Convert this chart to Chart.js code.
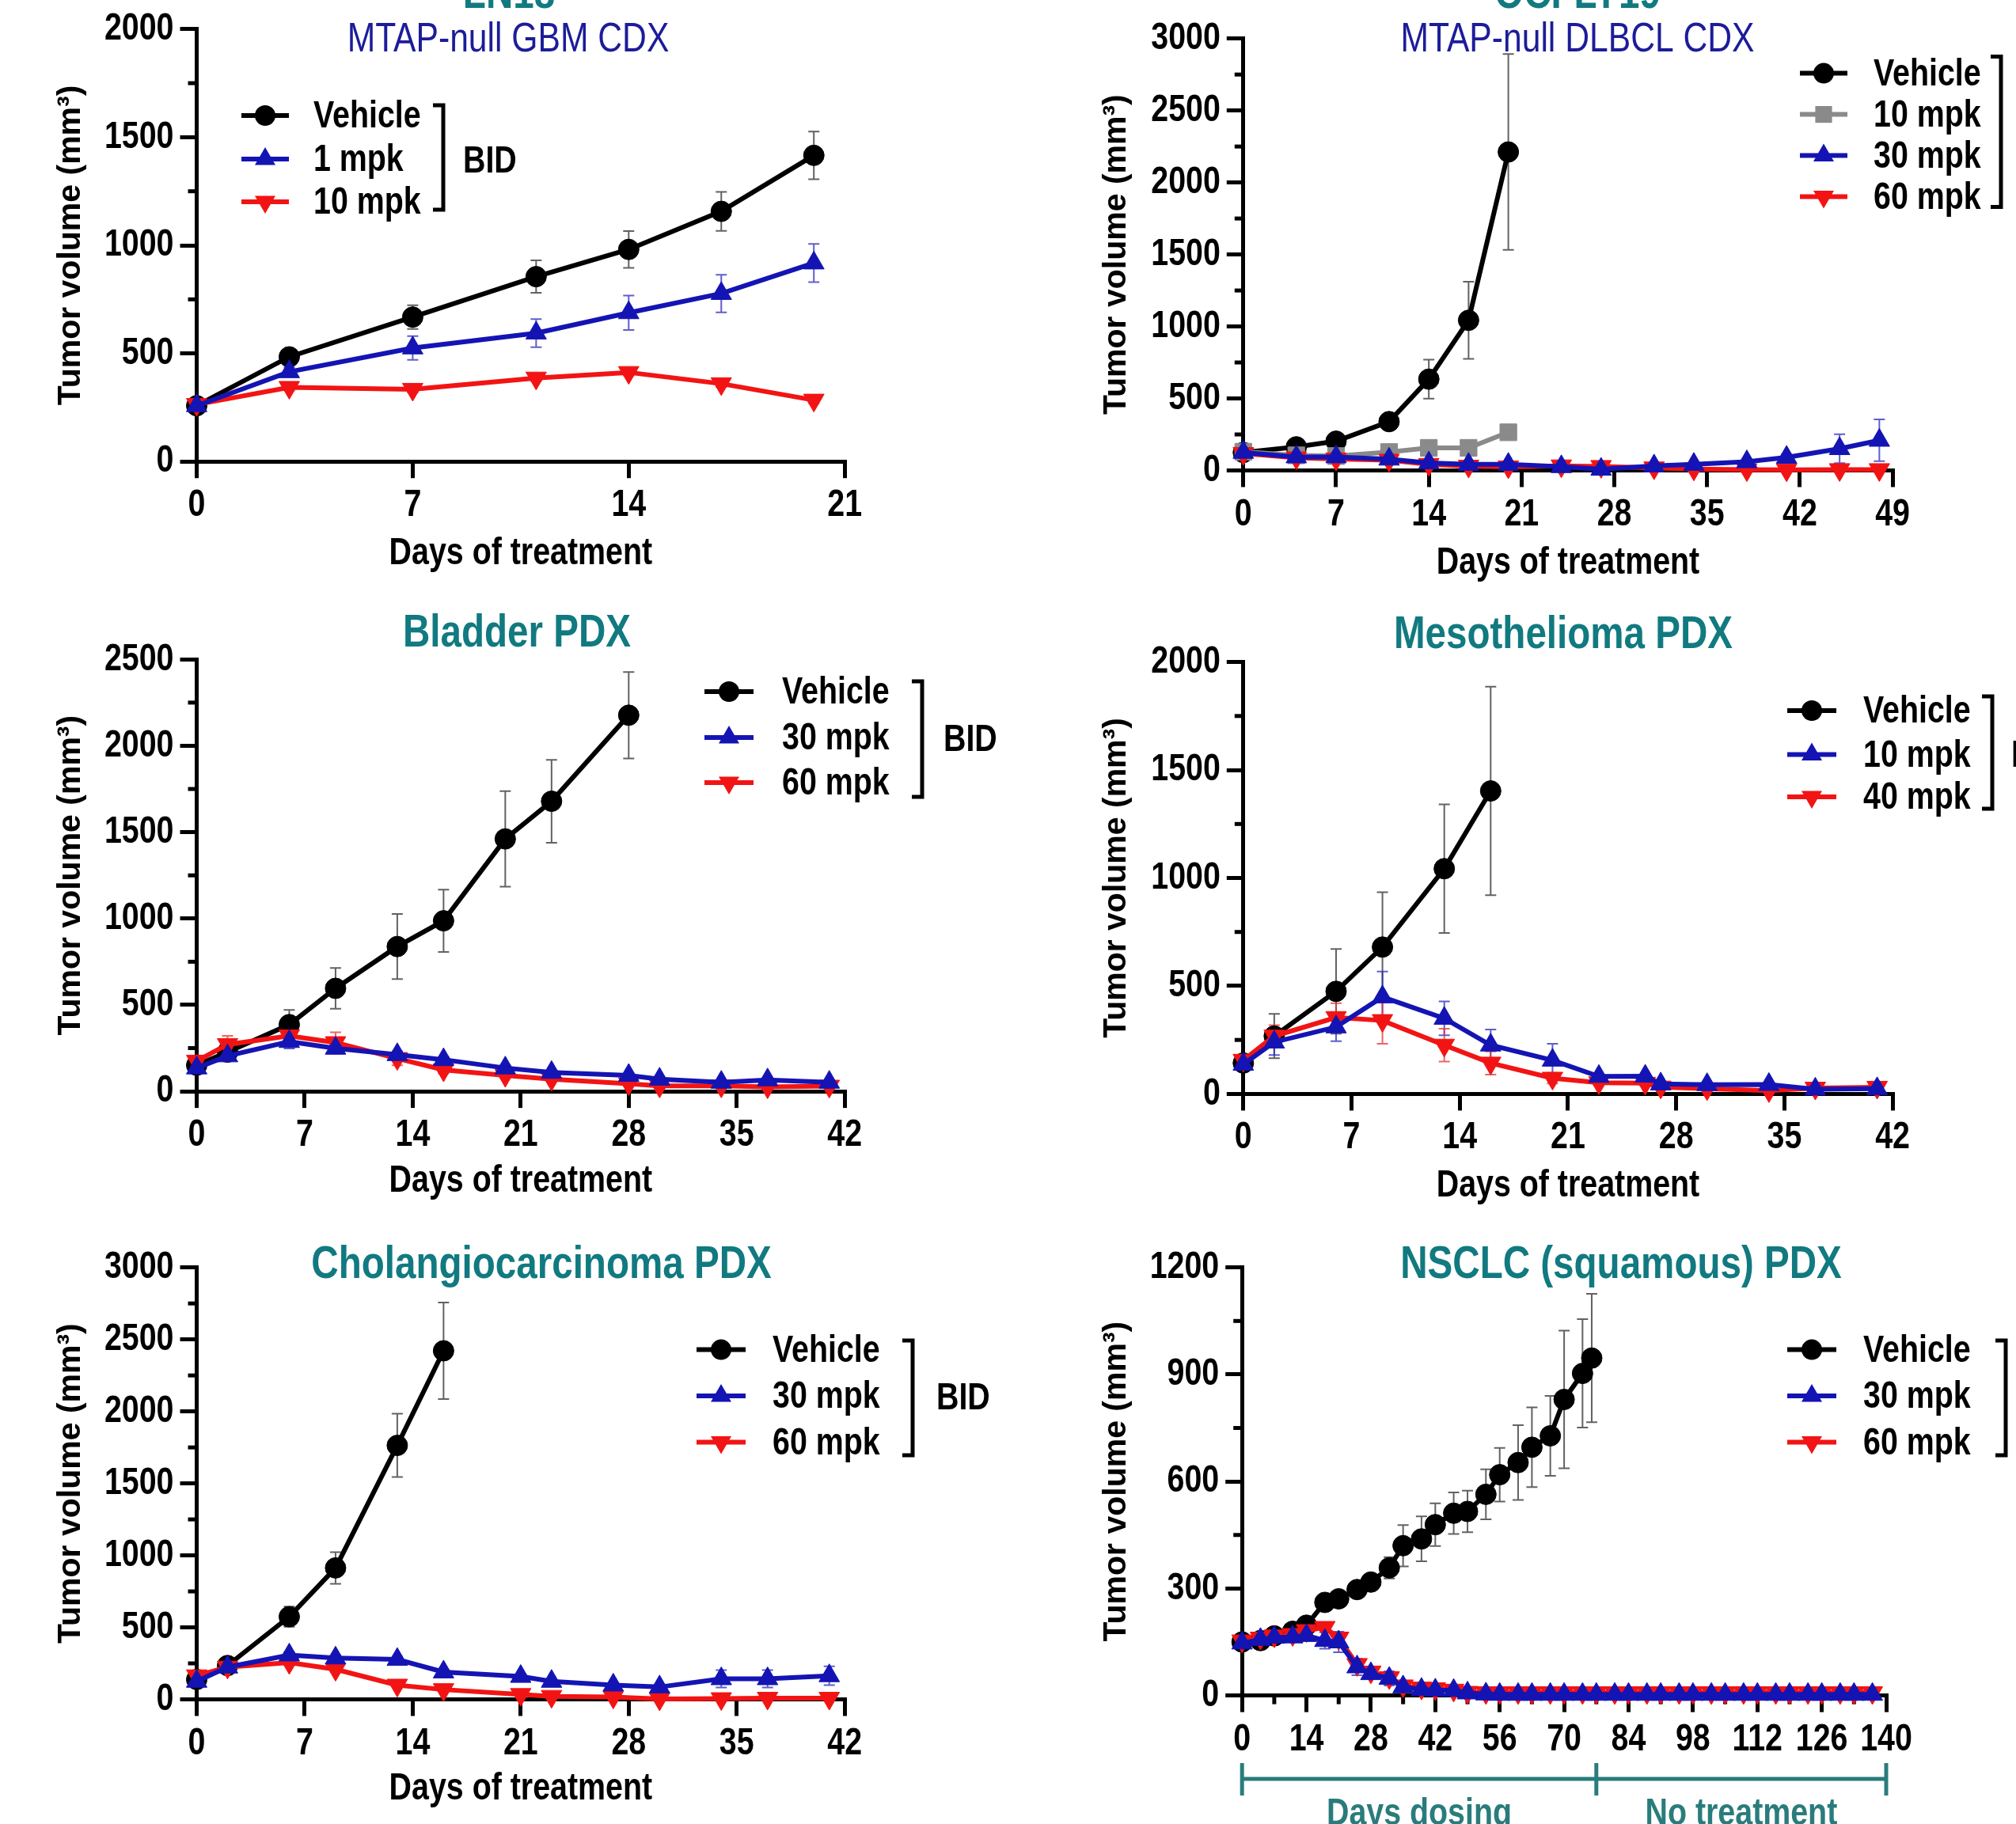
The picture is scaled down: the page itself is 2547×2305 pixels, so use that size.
<!DOCTYPE html>
<html>
<head>
<meta charset="utf-8">
<script src="https://cdn.jsdelivr.net/npm/chart.js@4.4.1/dist/chart.umd.min.js"></script>
<style>
html, body { margin: 0; padding: 0; background: #ffffff; }
body { width: 2547px; height: 2305px; position: relative; overflow: hidden; }
</style>
</head>
<body>
<script>
// ---------------- DATA ----------------
// LN18 (MTAP-null GBM CDX)
const ln18Days = [0, 3, 7, 11, 14, 17, 20];
const ln18Vehicle = [258, 484, 668, 855, 981, 1157, 1416];
const ln18VehicleSem = [12, 22, 55, 75, 85, 90, 110];
const ln18Mpk1 = [258, 415, 525, 594, 688, 777, 918];
const ln18Mpk1Sem = [10, 20, 55, 65, 80, 87, 88];
const ln18Mpk10 = [264, 343, 334, 386, 412, 360, 284];
const ln18Mpk10Sem = [10, 15, 15, 15, 15, 15, 15];

// OCI-LY19 (MTAP-null DLBCL CDX)
const ociShortDays = [0, 4, 7, 11, 14, 17, 20];
const ociLongDays = [0, 4, 7, 11, 14, 17, 20, 24, 27, 31, 34, 38, 41, 45, 48];
const ociVehicle = [125, 164, 203, 339, 634, 1043, 2212];
const ociVehicleSem = [15, 20, 25, 40, 135, 268, 680];
const ociMpk10 = [130, 105, 100, 128, 157, 157, 265];
const ociMpk10Sem = [10, 10, 10, 15, 20, 20, 25];
const ociMpk30 = [125, 94, 94, 78, 52, 42, 42, 26, 8, 31, 42, 60, 91, 151, 209];
const ociMpk30Sem = [10, 10, 10, 10, 10, 10, 10, 8, 5, 8, 10, 12, 20, 100, 145];
const ociMpk60 = [118, 88, 80, 72, 42, 30, 25, 32, 28, 18, 10, 5, 4, 6, 6];
const ociMpk60Sem = [10, 10, 10, 10, 8, 8, 8, 8, 6, 5, 4, 3, 3, 3, 3];

// Bladder PDX
const bladVehDays = [0, 2, 6, 9, 13, 16, 20, 23, 28];
const bladVehicle = [151, 227, 386, 596, 838, 987, 1461, 1679, 2177];
const bladVehicleSem = [20, 20, 85, 118, 188, 180, 277, 240, 250];
const bladTxDays = [0, 2, 6, 9, 13, 16, 20, 23, 28, 30, 34, 37, 41];
const bladMpk30 = [135, 205, 288, 249, 212, 183, 135, 109, 92, 70, 52, 66, 52];
const bladMpk30Sem = [15, 20, 40, 30, 20, 15, 15, 12, 10, 10, 8, 10, 10];
const bladMpk60 = [175, 271, 321, 282, 190, 124, 92, 70, 44, 31, 31, 26, 30];
const bladMpk60Sem = [20, 50, 50, 60, 40, 20, 15, 12, 10, 8, 8, 8, 8];

// Mesothelioma PDX
const mesoVehDays = [0, 2, 6, 9, 13, 16];
const mesoVehicle = [143, 268, 475, 680, 1043, 1403];
const mesoVehicleSem = [20, 103, 196, 254, 298, 483];
const mesoTxDays = [0, 2, 6, 9, 13, 16, 20, 23, 26, 27, 30, 34, 37, 41];
const mesoMpk10 = [137, 240, 310, 449, 350, 226, 156, 81, 82, 46, 43, 44, 22, 24];
const mesoMpk10Sem = [15, 60, 66, 118, 78, 72, 76, 12, 10, 8, 8, 8, 5, 5];
const mesoMpk40 = [156, 268, 354, 340, 226, 143, 73, 52, 50, 32, 24, 15, 27, 31];
const mesoMpk40Sem = [15, 50, 66, 108, 76, 54, 25, 10, 10, 8, 5, 5, 5, 5];

// Cholangiocarcinoma PDX
const cholVehDays = [0, 2, 6, 9, 13, 16];
const cholVehicle = [138, 235, 574, 913, 1764, 2421];
const cholVehicleSem = [20, 20, 70, 110, 220, 335];
const cholTxDays = [0, 2, 6, 9, 13, 16, 21, 23, 27, 30, 34, 37, 41];
const cholMpk30 = [125, 224, 308, 287, 277, 190, 159, 125, 99, 86, 143, 143, 164];
const cholMpk30Sem = [15, 20, 20, 20, 20, 15, 15, 15, 15, 15, 60, 60, 65];
const cholMpk60 = [164, 224, 256, 209, 99, 68, 34, 21, 16, 3, 5, 8, 8];
const cholMpk60Sem = [15, 20, 20, 20, 15, 10, 8, 5, 5, 3, 3, 3, 3];

// NSCLC (squamous) PDX
const nsclcVehDays = [0, 4, 7, 11, 14, 18, 21, 25, 28, 32, 35, 39, 42, 46, 49, 53, 56, 60, 63, 67, 70, 74, 76];
const nsclcVehicle = [150, 154, 167, 180, 197, 261, 271, 297, 318, 358, 420, 439, 479, 511, 516, 564, 619, 653, 696, 728, 830, 903, 946];
const nsclcVehicleSem = [5, 5, 8, 8, 10, 10, 10, 10, 12, 30, 58, 63, 60, 58, 58, 70, 75, 105, 112, 112, 193, 152, 180];
const nsclcTxDays = [0, 4, 7, 11, 14, 18, 21, 25, 28, 32, 35, 39, 42, 46, 49, 53, 56, 60, 63, 67, 70, 74, 77, 81, 84, 88, 91, 95, 98, 102, 105, 109, 112, 116, 119, 123, 126, 130, 133, 137];
const nsclcMpk30 = [147, 157, 163, 164, 168, 154, 150, 80, 61, 48, 24, 17, 15, 14, 7, 4, 3, 3, 3, 3, 3, 3, 3, 3, 3, 3, 3, 3, 3, 3, 3, 3, 3, 3, 3, 3, 3, 3, 3, 3];
const nsclcMpk30Sem = [5, 5, 8, 8, 10, 23, 29, 23, 10, 20, 8, 6, 5, 5, 4, 0, 0, 0, 0, 0, 0, 0, 0, 0, 0, 0, 0, 0, 0, 0, 0, 0, 0, 0, 0, 0, 0, 0, 0, 0];
const nsclcMpk60 = [153, 161, 167, 171, 182, 191, 161, 87, 66, 50, 27, 21, 19, 15, 9, 8, 8, 8, 8, 8, 8, 8, 8, 8, 8, 8, 8, 8, 8, 8, 8, 8, 8, 8, 8, 8, 8, 8, 8, 8];
const nsclcMpk60Sem = [5, 5, 8, 8, 10, 10, 10, 15, 10, 10, 6, 5, 5, 4, 3, 0, 0, 0, 0, 0, 0, 0, 0, 0, 0, 0, 0, 0, 0, 0, 0, 0, 0, 0, 0, 0, 0, 0, 0, 0];
const nsclcDosingEndDay = 77;

// ---------------- STYLE ----------------
// "Arimo" marks the condensed text family; it is drawn with a horizontal squeeze (Arial Narrow look).
const NARROW = "'Liberation Sans',Arimo,Arial,sans-serif";
const NARROW_SCALE = 0.82;
const WIDE = "'Liberation Sans',Arial,sans-serif";
const BLACK = '#000000', BLUE = '#1414b4', RED = '#f21414', GRAY = '#8a8a8a';
const TEAL = '#117a80', TEAL2 = '#2a7c7c', NAVY = '#1c1c9a';
const ERR = { [BLACK]: 'rgba(70,70,70,0.85)', [BLUE]: 'rgba(40,40,190,0.75)', [RED]: 'rgba(230,50,50,0.75)', [GRAY]: 'rgba(120,120,120,0.8)' };

function series(label, days, vals, sem, color, shape, order) {
  const r = shape === 'circle' ? 13 : (shape === 'rect' ? 15 : 15);
  return {
    label, shape, sem, order,
    data: days.map((d, i) => ({ x: d, y: vals[i] })),
    borderColor: color, backgroundColor: color, borderWidth: 6,
    pointStyle: shape === 'down' || shape === 'up' ? 'triangle' : shape,
    pointRotation: shape === 'down' ? 180 : 0,
    pointRadius: r, pointHoverRadius: r,
    pointBorderWidth: 1, pointBorderColor: color, pointBackgroundColor: color,
    tension: 0, clip: false, errColor: ERR[color]
  };
}

function drawMarker(ctx, shape, x, y, color) {
  ctx.fillStyle = color;
  ctx.beginPath();
  const r = 15;
  if (shape === 'circle') ctx.arc(x, y, 13, 0, Math.PI * 2);
  else if (shape === 'rect') ctx.rect(x - 10.6, y - 10.6, 21.2, 21.2);
  else if (shape === 'up') { ctx.moveTo(x, y - r); ctx.lineTo(x + r * 0.866, y + r / 2); ctx.lineTo(x - r * 0.866, y + r / 2); ctx.closePath(); }
  else { ctx.moveTo(x, y + r); ctx.lineTo(x + r * 0.866, y - r / 2); ctx.lineTo(x - r * 0.866, y - r / 2); ctx.closePath(); }
  ctx.fill();
}

function condenseText(ctx) {
  const orig = ctx.fillText.bind(ctx);
  ctx.fillText = function (text, x, y, maxWidth) {
    if (String(this.font).indexOf('Arimo') >= 0) {
      this.save();
      this.translate(x, y);
      this.scale(NARROW_SCALE, 1);
      orig(text, 0, 0);
      this.restore();
    } else if (maxWidth === undefined) {
      orig(text, x, y);
    } else {
      orig(text, x, y, maxWidth);
    }
  };
}

function buildPanel(p) {
  const [cx, cy, cw, ch] = p.canvas;
  const [L, T, R, B] = p.area;
  const YW = 200, XH = 150;
  const canvas = document.createElement('canvas');
  canvas.width = cw; canvas.height = ch;
  Object.assign(canvas.style, { position: 'absolute', left: cx + 'px', top: cy + 'px', width: cw + 'px', height: ch + 'px' });
  document.body.appendChild(canvas);
  condenseText(canvas.getContext('2d'));
  const padding = { left: L - cx - YW, top: T - cy, right: cx + cw - R, bottom: cy + ch - B - XH };
  const xTitlePad = p.xTitleY ? (B + XH - p.xTitleY - 28.8) : 0;
  const yTitlePad = p.yTitleX - (L - YW) - 24;

  const deco = {
    id: 'deco_' + p.name,
    beforeDatasetsDraw(chart) {
      const ctx = chart.ctx, xs = chart.scales.x, ys = chart.scales.y;
      ctx.save();
      ctx.strokeStyle = '#000'; ctx.lineWidth = 5; ctx.lineCap = 'butt';
      if (p.yMinor) {
        for (let v = p.yMinor; v < p.yMax; v += p.yMinor * 2) {
          const py = ys.getPixelForValue(v);
          ctx.beginPath(); ctx.moveTo(xs.left - 11, py); ctx.lineTo(xs.left, py); ctx.stroke();
        }
      }
      if (p.xMinor) {
        for (let v = p.xMinor; v < p.xMax; v += p.xMinor * 2) {
          const px = xs.getPixelForValue(v);
          ctx.beginPath(); ctx.moveTo(px, ys.bottom); ctx.lineTo(px, ys.bottom + 11); ctx.stroke();
        }
      }
      chart.data.datasets.forEach(d => {
        if (!d.sem) return;
        ctx.strokeStyle = d.errColor; ctx.lineWidth = 2;
        d.data.forEach((pt, i) => {
          const e = d.sem[i];
          if (!e) return;
          const px = xs.getPixelForValue(pt.x);
          const yt = ys.getPixelForValue(pt.y + e);
          const yb = ys.getPixelForValue(Math.max(pt.y - e, 0));
          ctx.beginPath();
          ctx.moveTo(px, yt); ctx.lineTo(px, yb);
          ctx.moveTo(px - 7, yt); ctx.lineTo(px + 7, yt);
          ctx.moveTo(px - 7, yb); ctx.lineTo(px + 7, yb);
          ctx.stroke();
        });
      });
      ctx.restore();
    },
    afterDraw(chart) {
      const ctx = chart.ctx;
      ctx.save();
      (p.texts || []).forEach(t => {
        ctx.font = t.font; ctx.fillStyle = t.color;
        ctx.textAlign = t.align || 'center'; ctx.textBaseline = t.baseline || 'alphabetic';
        ctx.fillText(t.t, t.x - cx, t.y - cy);
      });
      const lg = p.legend;
      const items = chart.data.datasets.slice().sort((a, b) => a.legendIndex - b.legendIndex);
      items.forEach((d, i) => {
        const y = lg.rows[i] - cy;
        ctx.strokeStyle = d.borderColor; ctx.lineWidth = 6;
        ctx.beginPath(); ctx.moveTo(lg.x1 - cx, y); ctx.lineTo(lg.x2 - cx, y); ctx.stroke();
        drawMarker(ctx, d.shape, (lg.x1 + lg.x2) / 2 - cx, y, d.borderColor);
        ctx.font = `bold 48px ${NARROW}`; ctx.fillStyle = '#000';
        ctx.textAlign = 'left'; ctx.textBaseline = 'middle';
        ctx.fillText(d.label, lg.textX - cx, y + 2);
      });
      const bx = lg.bracket[0] - cx, by1 = lg.bracket[1] - cy, by2 = lg.bracket[2] - cy;
      ctx.strokeStyle = '#000'; ctx.lineWidth = 5; ctx.lineJoin = 'miter';
      ctx.beginPath(); ctx.moveTo(bx - 13, by1); ctx.lineTo(bx, by1); ctx.lineTo(bx, by2); ctx.lineTo(bx - 13, by2); ctx.stroke();
      if (lg.bid) {
        ctx.font = `bold 48px ${NARROW}`; ctx.fillStyle = '#000';
        ctx.textAlign = 'left'; ctx.textBaseline = 'middle';
        ctx.fillText('BID', lg.bid[0] - cx, lg.bid[1] - cy + 2);
      }
      if (p.dosing) {
        const xs = chart.scales.x;
        const a = xs.getPixelForValue(0), m = xs.getPixelForValue(p.dosing.end), b = xs.getPixelForValue(p.xMax);
        const yl = p.dosing.y - cy;
        ctx.strokeStyle = TEAL2; ctx.lineWidth = 5;
        ctx.beginPath(); ctx.moveTo(a, yl); ctx.lineTo(b, yl); ctx.stroke();
        [a, m, b].forEach(px => { ctx.beginPath(); ctx.moveTo(px, yl - 20); ctx.lineTo(px, yl + 21); ctx.stroke(); });
        ctx.font = `bold 48px ${NARROW}`; ctx.fillStyle = TEAL2; ctx.textAlign = 'center'; ctx.textBaseline = 'alphabetic';
        ctx.fillText('Days dosing', (a + m) / 2, p.dosing.textY - cy);
        ctx.fillText('No treatment', (m + b) / 2, p.dosing.textY - cy);
      }
      ctx.restore();
    }
  };

  const tickFont = { family: NARROW, weight: 'bold', size: 48 };
  new Chart(canvas, {
    type: 'line',
    data: { datasets: p.datasets },
    options: {
      responsive: false, animation: false, devicePixelRatio: 1, events: [],
      layout: { padding, autoPadding: false },
      plugins: { legend: { display: false }, tooltip: { enabled: false }, title: { display: false } },
      scales: {
        x: {
          type: 'linear', min: 0, max: p.xMax,
          afterFit(s) { s.height = XH; },
          border: { display: true, color: '#000', width: 5 },
          grid: { display: true, drawOnChartArea: false, drawTicks: true, tickLength: 21, tickWidth: 5, tickColor: '#000', color: '#000', lineWidth: 5 },
          ticks: { stepSize: p.xStep, autoSkip: false, maxRotation: 0, minRotation: 0, color: '#000', padding: 6, font: tickFont, callback: v => String(v) },
          title: { display: !!p.xTitle, text: p.xTitle || '', color: '#000', font: { family: NARROW, weight: 'bold', size: 48, lineHeight: 1.2 }, padding: { top: 0, bottom: xTitlePad } }
        },
        y: {
          type: 'linear', min: 0, max: p.yMax,
          afterFit(s) { s.width = YW; },
          border: { display: true, color: '#000', width: 5 },
          grid: { display: true, drawOnChartArea: false, drawTicks: true, tickLength: 21, tickWidth: 5, tickColor: '#000', color: '#000', lineWidth: 5 },
          ticks: { stepSize: p.yStep, autoSkip: false, color: '#000', padding: 8, font: tickFont, callback: v => String(v) },
          title: { display: true, text: 'Tumor volume (mm³)', color: '#000', font: { family: WIDE, weight: 'bold', size: 41, lineHeight: 1.2 }, padding: { top: yTitlePad, bottom: 0 } }
        }
      }
    },
    plugins: [deco]
  });
}

function withIdx(ds, i) { ds.legendIndex = i; return ds; }

const TITLE_FONT = `bold 58px ${NARROW}`;
const SUB_FONT = `52px ${NARROW}`;

buildPanel({
  name: 'ln18', canvas: [0, 0, 1274, 770], area: [248.5, 35.7, 1067.2, 583.2],
  xMax: 21, xStep: 7, yMax: 2000, yStep: 500, yMinor: 250, yTitleX: 89, xTitleY: 700, xTitle: 'Days of treatment',
  datasets: [
    withIdx(series('Vehicle', ln18Days, ln18Vehicle, ln18VehicleSem, BLACK, 'circle', 3), 0),
    withIdx(series('1 mpk', ln18Days, ln18Mpk1, ln18Mpk1Sem, BLUE, 'up', 1), 1),
    withIdx(series('10 mpk', ln18Days, ln18Mpk10, ln18Mpk10Sem, RED, 'down', 2), 2)
  ],
  texts: [
    { t: 'LN18', x: 643, y: 10, font: TITLE_FONT, color: TEAL },
    { t: 'MTAP-null GBM CDX', x: 642, y: 65, font: SUB_FONT, color: NAVY }
  ],
  legend: { rows: [146, 201, 255], x1: 305, x2: 365, textX: 396, bracket: [560, 133, 265], bid: [585, 203] }
});

buildPanel({
  name: 'oci', canvas: [1274, 0, 1273, 770], area: [1570.8, 48.7, 2391.1, 594.5],
  xMax: 49, xStep: 7, yMax: 3000, yStep: 500, yMinor: 250, yTitleX: 1410, xTitleY: 711.5, xTitle: 'Days of treatment',
  datasets: [
    withIdx(series('Vehicle', ociShortDays, ociVehicle, ociVehicleSem, BLACK, 'circle', 4), 0),
    withIdx(series('10 mpk', ociShortDays, ociMpk10, ociMpk10Sem, GRAY, 'rect', 3), 1),
    withIdx(series('30 mpk', ociLongDays, ociMpk30, ociMpk30Sem, BLUE, 'up', 1), 2),
    withIdx(series('60 mpk', ociLongDays, ociMpk60, ociMpk60Sem, RED, 'down', 2), 3)
  ],
  texts: [
    { t: 'OCI-LY19', x: 1993, y: 10, font: TITLE_FONT, color: TEAL },
    { t: 'MTAP-null DLBCL CDX', x: 1993, y: 65, font: SUB_FONT, color: NAVY }
  ],
  legend: { rows: [92.6, 144.6, 196.6, 248.5], x1: 2274, x2: 2334, textX: 2367, bracket: [2528, 71.5, 261.5], bid: [2555, 170] }
});

buildPanel({
  name: 'bladder', canvas: [0, 770, 1274, 770], area: [248.5, 833.3, 1067.2, 1379.1],
  xMax: 42, xStep: 7, yMax: 2500, yStep: 500, yMinor: 250, yTitleX: 89, xTitleY: 1493, xTitle: 'Days of treatment',
  datasets: [
    withIdx(series('Vehicle', bladVehDays, bladVehicle, bladVehicleSem, BLACK, 'circle', 3), 0),
    withIdx(series('30 mpk', bladTxDays, bladMpk30, bladMpk30Sem, BLUE, 'up', 1), 1),
    withIdx(series('60 mpk', bladTxDays, bladMpk60, bladMpk60Sem, RED, 'down', 2), 2)
  ],
  texts: [ { t: 'Bladder PDX', x: 653, y: 817, font: TITLE_FONT, color: TEAL } ],
  legend: { rows: [874, 932, 989], x1: 890, x2: 952, textX: 988, bracket: [1165, 861, 1007], bid: [1192, 934] }
});

buildPanel({
  name: 'meso', canvas: [1274, 770, 1273, 770], area: [1570.8, 836.6, 2391.1, 1382.4],
  xMax: 42, xStep: 7, yMax: 2000, yStep: 500, yMinor: 250, yTitleX: 1410, xTitleY: 1499, xTitle: 'Days of treatment',
  datasets: [
    withIdx(series('Vehicle', mesoVehDays, mesoVehicle, mesoVehicleSem, BLACK, 'circle', 3), 0),
    withIdx(series('10 mpk', mesoTxDays, mesoMpk10, mesoMpk10Sem, BLUE, 'up', 1), 1),
    withIdx(series('40 mpk', mesoTxDays, mesoMpk40, mesoMpk40Sem, RED, 'down', 2), 2)
  ],
  texts: [ { t: 'Mesothelioma PDX', x: 1975, y: 819, font: TITLE_FONT, color: TEAL } ],
  legend: { rows: [898, 953.5, 1007], x1: 2258, x2: 2320, textX: 2354, bracket: [2517, 880, 1022], bid: [2541, 953.5] }
});

buildPanel({
  name: 'chol', canvas: [0, 1540, 1274, 765], area: [248.5, 1601.7, 1067.2, 2147.5],
  xMax: 42, xStep: 7, yMax: 3000, yStep: 500, yMinor: 250, yTitleX: 89, xTitleY: 2261, xTitle: 'Days of treatment',
  datasets: [
    withIdx(series('Vehicle', cholVehDays, cholVehicle, cholVehicleSem, BLACK, 'circle', 3), 0),
    withIdx(series('30 mpk', cholTxDays, cholMpk30, cholMpk30Sem, BLUE, 'up', 1), 1),
    withIdx(series('60 mpk', cholTxDays, cholMpk60, cholMpk60Sem, RED, 'down', 2), 2)
  ],
  texts: [ { t: 'Cholangiocarcinoma PDX', x: 684, y: 1615, font: TITLE_FONT, color: TEAL } ],
  legend: { rows: [1705.6, 1764, 1822.6], x1: 880, x2: 942, textX: 976, bracket: [1153, 1694, 1839], bid: [1183, 1766] }
});

buildPanel({
  name: 'nsclc', canvas: [1274, 1540, 1273, 765], area: [1569.2, 1601.7, 2383, 2142.6],
  xMax: 140, xStep: 14, xMinor: 7, yMax: 1200, yStep: 300, yMinor: 150, yTitleX: 1410, xTitleY: null, xTitle: null,
  datasets: [
    withIdx(series('Vehicle', nsclcVehDays, nsclcVehicle, nsclcVehicleSem, BLACK, 'circle', 3), 0),
    withIdx(series('30 mpk', nsclcTxDays, nsclcMpk30, nsclcMpk30Sem, BLUE, 'up', 1), 1),
    withIdx(series('60 mpk', nsclcTxDays, nsclcMpk60, nsclcMpk60Sem, RED, 'down', 2), 2)
  ],
  texts: [ { t: 'NSCLC (squamous) PDX', x: 2048, y: 1615, font: TITLE_FONT, color: TEAL } ],
  legend: { rows: [1705.6, 1764, 1822.6], x1: 2258, x2: 2320, textX: 2354, bracket: [2534, 1694, 1839], bid: [2560, 1766] },
  dosing: { end: nsclcDosingEndDay, y: 2248, textY: 2306 }
});
</script>
</body>
</html>
